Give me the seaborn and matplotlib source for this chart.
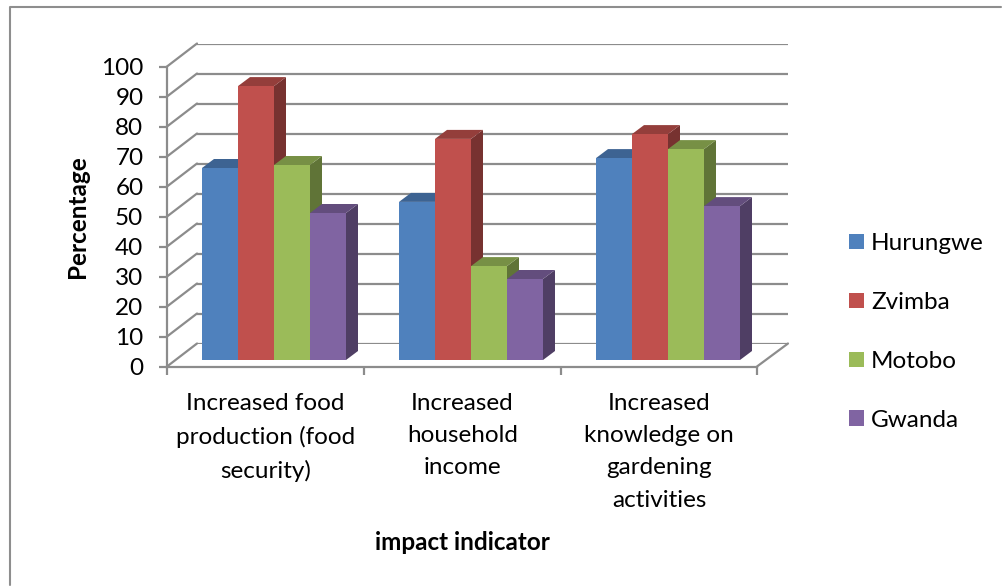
import pandas as pd
import seaborn as sns
import matplotlib
matplotlib.use("Agg")
import matplotlib.pyplot as plt
from matplotlib.colors import to_rgb
from matplotlib.lines import Line2D
from matplotlib.patches import Polygon

indicators = [
    "Increased food\nproduction (food\nsecurity)",
    "Increased\nhousehold\nincome",
    "Increased\nknowledge on\ngardening\nactivities",
]
hurungwe = [64, 52.7, 67.3]
zvimba = [91.3, 73.7, 75.3]
motobo = [65, 31.3, 70.3]
gwanda = [49, 27, 51.3]
districts = ["Hurungwe", "Zvimba", "Motobo", "Gwanda"]
colors = ["#4F81BD", "#C0504D", "#9BBB59", "#8064A2"]
y_ticks = list(range(0, 101, 10))

df = pd.DataFrame({"indicator": indicators, "Hurungwe": hurungwe, "Zvimba": zvimba,
                   "Motobo": motobo, "Gwanda": gwanda})
df = df.melt(id_vars="indicator", var_name="district", value_name="pct")

W, H = 1002, 586
GRID = "#8C8C8C"
LW = 1.6
sns.set_style("white")
plt.rcParams["font.family"] = ["Lato", "DejaVu Sans"]
plt.rcParams["text.color"] = "black"
plt.rcParams["axes.labelcolor"] = "black"
plt.rcParams["xtick.labelcolor"] = "black"
plt.rcParams["ytick.labelcolor"] = "black"


def px_rect(left, top, right, bottom):
    return [left / W, 1 - bottom / H, (right - left) / W, (bottom - top) / H]


def px_line(fig, xs, ys, color=GRID, lw=LW):
    fig.add_artist(Line2D([x / W for x in xs], [1 - y / H for y in ys], color=color, lw=lw))


fig = plt.figure(figsize=(W / 100, H / 100), dpi=100)

# outer chart frame, only left and top show in the picture
px_line(fig, [10, 10, 1001], [585, 7, 7], color="#8E8E8E", lw=1.5)

# back wall
back = fig.add_axes(px_rect(197, 43.5, 788, 343.5))
back.set_xlim(0, 1)
back.set_ylim(0, 100)
back.set_yticks(y_ticks)
back.set_xticks([])
back.set_yticklabels([])
back.tick_params(left=False)
back.grid(axis="y", color=GRID, lw=LW)
back.patch.set_alpha(0)
sns.despine(ax=back, left=True, bottom=True)

# side wall and floor edges
for t in y_ticks:
    px_line(fig, [167, 197], [366.5 - t * 3, 343.5 - t * 3])
px_line(fig, [757, 788], [366.5, 343.5])

# front plane, carries the axes
front = fig.add_axes(px_rect(167, 66.5, 757.5, 366.5))
front.patch.set_alpha(0)
front.set_xlim(0, 3)
front.set_ylim(0, 100)
front.set_yticks(y_ticks)
front.set_xticks([0, 1, 2, 3])
front.set_xticklabels([])
front.set_xticks([0.5, 1.5, 2.5], minor=True)
front.set_xticklabels(indicators, minor=True, fontsize=17.5, linespacing=1.66)
front.tick_params(axis="x", which="minor", length=0, pad=19)
front.tick_params(axis="both", which="major", length=6, width=LW, color=GRID,
                  labelsize=17.5, left=True, bottom=True, pad=11)
for side in ["left", "bottom"]:
    front.spines[side].set_color(GRID)
    front.spines[side].set_linewidth(LW)
sns.despine(ax=front)
front.set_ylabel("Percentage", fontsize=17.5, fontweight="bold")
front.yaxis.set_label_coords(-0.132, 0.5)
front.set_xlabel("impact indicator", fontsize=17.5, fontweight="bold")
front.xaxis.set_label_coords(0.5, -0.548)

# bars sit a bit behind the front plane
ax = fig.add_axes(px_rect(175.5, 60, 766.5, 360))
ax.patch.set_alpha(0)
sns.barplot(data=df, x="indicator", y="pct", hue="district", hue_order=districts,
            palette=colors, saturation=1, width=144 / 197, gap=0, linewidth=0, ax=ax)
ax.set_xlim(-0.5, 2.5)
ax.set_ylim(0, 100)

# fake the 3d depth from each drawn bar, left to right so they overlap right
DX = 12 / 197
DY = 3
bars = [p for p in ax.patches if p.get_height() > 0]
bars = sorted(bars, key=lambda p: p.get_x())
for i, p in enumerate(bars):
    x0, x1 = p.get_x(), p.get_x() + p.get_width()
    h = p.get_height()
    rgb = to_rgb(p.get_facecolor())
    z = 5 + i
    p.set_zorder(z + 0.5)
    ax.add_patch(Polygon([(x1, 0), (x1 + DX, DY), (x1 + DX, h + DY), (x1, h)], closed=True,
                         fc=[c * 0.62 for c in rgb], lw=0, clip_on=False, zorder=z))
    ax.add_patch(Polygon([(x0, h), (x0 + DX, h + DY), (x1 + DX, h + DY), (x1, h)], closed=True,
                         fc=[c * 0.77 for c in rgb], lw=0, clip_on=False, zorder=z))

handles, labels = ax.get_legend_handles_labels()
ax.legend(handles, labels, loc="center left", bbox_to_anchor=(849 / W, 1 - 332 / H),
          bbox_transform=fig.transFigure, frameon=False, fontsize=17.5, handlelength=0.62,
          handleheight=0.62, handletextpad=0.28, labelspacing=1.56, borderpad=0, borderaxespad=0)
ax.set_axis_off()

fig.savefig("out.png", dpi=100)
